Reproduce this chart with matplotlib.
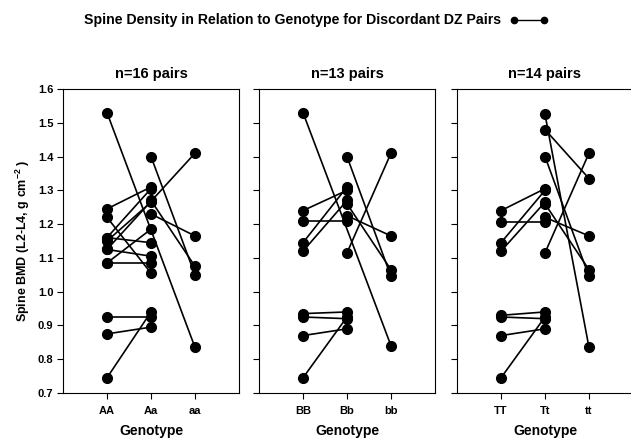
import matplotlib
matplotlib.use("Agg")
import matplotlib.pyplot as plt
from matplotlib.lines import Line2D

plt.rcParams['font.family'] = ['Liberation Sans', 'DejaVu Sans']
plt.rcParams['font.weight'] = 'bold'
plt.rcParams['mathtext.fontset'] = 'custom'
plt.rcParams['mathtext.rm'] = 'Liberation Sans:bold'
plt.rcParams['mathtext.bf'] = 'Liberation Sans:bold'

# --- data ---
title = "Spine Density in Relation to Genotype for Discordant DZ Pairs"
panel_titles = ["n=16 pairs", "n=13 pairs", "n=14 pairs"]
ylabel = r"Spine BMD (L2-L4, g cm$^{\mathbf{-2}}$ )"
xlabel = "Genotype"
yticks = [0.7, 0.8, 0.9, 1.0, 1.1, 1.2, 1.3, 1.4, 1.5, 1.6]

genotypes_a = ["AA", "Aa", "aa"]
pairs_a = [
    ("AA", 1.53, "aa", 0.835),
    ("Aa", 1.40, "aa", 1.05),
    ("AA", 1.125, "aa", 1.41),
    ("Aa", 1.23, "aa", 1.165),
    ("Aa", 1.27, "aa", 1.075),
    ("AA", 1.245, "Aa", 1.31),
    ("AA", 1.22, "Aa", 1.055),
    ("AA", 1.16, "Aa", 1.305),
    ("AA", 1.15, "Aa", 1.265),
    ("AA", 1.16, "Aa", 1.145),
    ("AA", 1.085, "Aa", 1.085),
    ("AA", 1.085, "Aa", 1.185),
    ("AA", 1.125, "Aa", 1.105),
    ("AA", 0.925, "Aa", 0.925),
    ("AA", 0.875, "Aa", 0.895),
    ("AA", 0.745, "Aa", 0.94),
]

genotypes_b = ["BB", "Bb", "bb"]
pairs_b = [
    ("BB", 1.53, "bb", 0.84),
    ("Bb", 1.40, "bb", 1.045),
    ("Bb", 1.115, "bb", 1.41),
    ("BB", 1.24, "Bb", 1.30),
    ("BB", 1.21, "Bb", 1.21),
    ("BB", 1.145, "Bb", 1.31),
    ("BB", 1.12, "Bb", 1.27),
    ("Bb", 1.225, "bb", 1.165),
    ("Bb", 1.26, "bb", 1.065),
    ("BB", 0.935, "Bb", 0.94),
    ("BB", 0.925, "Bb", 0.92),
    ("BB", 0.87, "Bb", 0.89),
    ("BB", 0.745, "Bb", 0.925),
]

genotypes_t = ["TT", "Tt", "tt"]
pairs_t = [
    ("Tt", 1.525, "tt", 0.835),
    ("Tt", 1.48, "tt", 1.335),
    ("Tt", 1.40, "tt", 1.045),
    ("Tt", 1.26, "tt", 1.065),
    ("Tt", 1.115, "tt", 1.41),
    ("Tt", 1.22, "tt", 1.165),
    ("TT", 1.24, "Tt", 1.305),
    ("TT", 1.205, "Tt", 1.205),
    ("TT", 1.145, "Tt", 1.30),
    ("TT", 1.12, "Tt", 1.265),
    ("TT", 0.93, "Tt", 0.94),
    ("TT", 0.925, "Tt", 0.92),
    ("TT", 0.87, "Tt", 0.89),
    ("TT", 0.745, "Tt", 0.925),
]

panels = [(genotypes_a, pairs_a), (genotypes_b, pairs_b), (genotypes_t, pairs_t)]

W, H = 631, 440
fig = plt.figure(figsize=(W / 100, H / 100), dpi=100)

lefts = [63, 259, 457]
for i, (genos, pairs) in enumerate(panels):
    ax = fig.add_axes([lefts[i] / W, 47 / H, 176 / W, 304 / H])
    for g0, v0, g1, v1 in pairs:
        x0 = genos.index(g0) + 1
        x1 = genos.index(g1) + 1
        ax.plot([x0, x1], [v0, v1], color='k', lw=1.2, marker='o', ms=7,
                solid_capstyle='butt')
    ax.set_xlim(0, 4)
    ax.set_ylim(0.7, 1.6)
    ax.set_xticks([1, 2, 3])
    ax.set_xticklabels(genos)
    ax.set_yticks(yticks)
    if i == 0:
        ax.set_yticklabels(["%.1f" % t for t in yticks])
        ax.set_ylabel(ylabel, fontsize=9, fontweight='bold', labelpad=4)
    else:
        ax.set_yticklabels([])
    ax.tick_params(direction='out', length=4, width=0.8, labelsize=8, pad=3)
    ax.tick_params(axis='x', pad=5)
    ax.set_xlabel(xlabel, fontsize=10, fontweight='bold', labelpad=6)
    ax.set_title(panel_titles[i], fontsize=10.5, fontweight='bold', pad=8)
    for s in ax.spines.values():
        s.set_linewidth(0.8)

fig.text(293 / W, 1 - 20 / H, title, ha='center', va='center',
         fontsize=10.2, fontweight='bold')
fig.add_artist(Line2D([514 / W, 544 / W], [1 - 20 / H, 1 - 20 / H],
                      transform=fig.transFigure, color='k', lw=1,
                      marker='o', ms=4.5))

fig.savefig("out.png", dpi=100)
